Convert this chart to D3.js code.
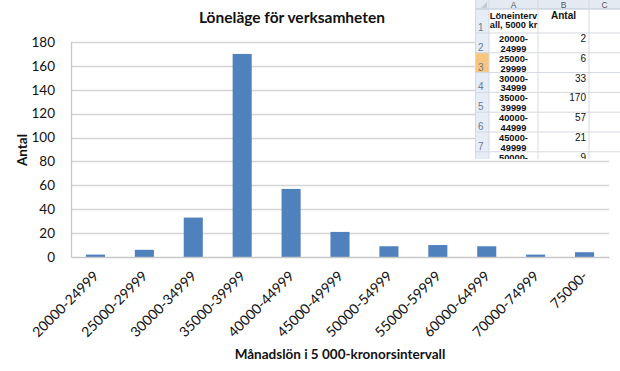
<!DOCTYPE html>
<html>
<head>
<meta charset="utf-8">
<script src="https://cdn.jsdelivr.net/npm/d3@7"></script>
<style>
  body { margin: 0; background: #fff; }
  svg { display: block; }
</style>
</head>
<body>
<div id="chart"></div>
<script>
// data
const categories = ["20000-24999", "25000-29999", "30000-34999", "35000-39999", "40000-44999",
  "45000-49999", "50000-54999", "55000-59999", "60000-64999", "70000-74999", "75000-"];
const counts = [2, 6, 33, 170, 57, 21, 9, 10, 9, 2, 4];
const yTicks = [0, 20, 40, 60, 80, 100, 120, 140, 160, 180];
const sheetColumns = ["A", "B", "C"];
const sheetHeaderA = ["Löneinterv", "all, 5000 kr"];
const sheetHeaderB = "Antal";

const width = 620, height = 371;
const font = "Lato, 'Open Sans', sans-serif";

const svg = d3.select("#chart").append("svg")
  .attr("width", width)
  .attr("height", height);

const plot = { left: 71, right: 609, top: 42, bottom: 257 };

const x = d3.scaleBand()
  .domain(categories)
  .range([plot.left, plot.right])
  .paddingInner(0.61)
  .paddingOuter(0.305);

const y = d3.scaleLinear()
  .domain([0, 180])
  .range([plot.bottom, plot.top]);

// gridlines
svg.append("g")
  .selectAll("line")
  .data(yTicks.filter(d => d > 0))
  .join("line")
  .attr("x1", plot.left)
  .attr("x2", plot.right)
  .attr("y1", d => Math.round(y(d)) + 0.5)
  .attr("y2", d => Math.round(y(d)) + 0.5)
  .attr("stroke", "#d4d4d4")
  .attr("stroke-width", 1.3);

// bars
svg.append("g")
  .selectAll("rect")
  .data(counts)
  .join("rect")
  .attr("x", (d, i) => x(categories[i]))
  .attr("y", d => y(d))
  .attr("width", x.bandwidth())
  .attr("height", d => plot.bottom - y(d))
  .attr("fill", "#4f81bd");

// axes
const yAxis = svg.append("g")
  .attr("transform", `translate(${plot.left},0)`)
  .call(d3.axisLeft(y).tickValues(yTicks).tickSize(0).tickPadding(16));
yAxis.select(".domain").attr("stroke", "#c8c8c8").attr("stroke-width", 1.3);
yAxis.selectAll("text")
  .attr("font-family", font)
  .attr("font-size", 13.5)
  .attr("fill", "#111");

const xAxis = svg.append("g")
  .attr("transform", `translate(0,${plot.bottom})`)
  .call(d3.axisBottom(x).tickSize(0).tickPadding(0));
xAxis.select(".domain").attr("stroke", "#c8c8c8").attr("stroke-width", 1.3);
xAxis.selectAll("text")
  .attr("font-family", font)
  .attr("font-size", 14)
  .attr("fill", "#111")
  .attr("text-anchor", "end")
  .attr("dy", "0")
  .attr("transform", "translate(4,20) rotate(-45)");

// titles
svg.append("text")
  .attr("x", 292)
  .attr("y", 23)
  .attr("text-anchor", "middle")
  .attr("font-family", font)
  .attr("font-weight", "bold")
  .attr("font-size", 15.5)
  .attr("fill", "#111")
  .text("Löneläge för verksamheten");

svg.append("text")
  .attr("transform", "translate(27,150) rotate(-90)")
  .attr("text-anchor", "middle")
  .attr("font-family", font)
  .attr("font-weight", "bold")
  .attr("font-size", 13.5)
  .attr("fill", "#111")
  .text("Antal");

svg.append("text")
  .attr("x", 340)
  .attr("y", 359)
  .attr("text-anchor", "middle")
  .attr("font-family", font)
  .attr("font-weight", "bold")
  .attr("font-size", 13.5)
  .attr("fill", "#111")
  .text("Månadslön i 5 000-kronorsintervall");

// pasted spreadsheet snippet in the top right corner
const sheet = svg.append("g");
const sheetFont = "'Liberation Sans', Arial, sans-serif";
const colEdges = { rh: [475, 489], A: [489, 538], B: [538, 589], C: [589, 620] };
const sheetBottom = 159;
const headH = 9;

sheet.append("clipPath").attr("id", "sheet-clip")
  .append("rect").attr("x", 475).attr("y", 0).attr("width", 145).attr("height", sheetBottom);

const sg = sheet.append("g").attr("clip-path", "url(#sheet-clip)");

// sheet rows: row 1 is the header, rows 2.. come from the data
const sheetRows = [{ n: 1, a: sheetHeaderA, b: sheetHeaderB, head: true }]
  .concat(categories.slice(0, 7).map((c, i) => {
    const parts = c.split("-");
    return { n: i + 2, a: [parts[0] + "-", parts[1]], b: String(counts[i]), head: false };
  }));

const rowScale = d3.scaleLinear().domain([2, 3]).range([33, 52.8]);
const rowTopOf = n => n === 1 ? headH : rowScale(n);
const rowBottomOf = n => n === 1 ? 33 : rowScale(n + 1);
const textY = d => rowTopOf(d.n) + (d.head ? 9.5 : 9);

sg.append("rect").attr("x", 475).attr("y", 0).attr("width", 145).attr("height", sheetBottom).attr("fill", "#fff");

// column header band
sg.append("rect").attr("x", 475).attr("y", 0).attr("width", 145).attr("height", headH).attr("fill", "#e4eaf2");
// row header band
sg.append("rect").attr("x", colEdges.rh[0]).attr("y", headH).attr("width", colEdges.rh[1] - colEdges.rh[0]).attr("height", sheetBottom).attr("fill", "#e6edf7");
// selected row 3
sg.append("rect").attr("x", colEdges.rh[0]).attr("y", rowTopOf(3)).attr("width", colEdges.rh[1] - colEdges.rh[0]).attr("height", rowBottomOf(3) - rowTopOf(3)).attr("fill", "#f8c77d");

// grid lines
sg.selectAll("line.h")
  .data(sheetRows)
  .join("line")
  .attr("class", "h")
  .attr("x1", 475).attr("x2", 620)
  .attr("y1", d => rowBottomOf(d.n)).attr("y2", d => rowBottomOf(d.n))
  .attr("stroke", "#d5d9df");
sg.append("line").attr("x1", 475).attr("x2", 620).attr("y1", headH).attr("y2", headH).attr("stroke", "#b8c4d4");
sg.selectAll("line.v")
  .data([colEdges.rh[1], colEdges.A[1], colEdges.B[1]])
  .join("line")
  .attr("class", "v")
  .attr("x1", d => d).attr("x2", d => d)
  .attr("y1", 0).attr("y2", sheetBottom)
  .attr("stroke", "#d5d9df");
sg.append("line").attr("x1", colEdges.rh[0] + 0.5).attr("x2", colEdges.rh[0] + 0.5).attr("y1", 0).attr("y2", sheetBottom).attr("stroke", "#d5d9df");

// corner triangle
sg.append("path")
  .attr("d", `M${colEdges.rh[1] - 2},2 L${colEdges.rh[1] - 2},8 L${colEdges.rh[1] - 8},8 Z`)
  .attr("fill", "#c3cbd6");

// column letters
sg.selectAll("text.col")
  .data(sheetColumns)
  .join("text")
  .attr("class", "col")
  .attr("x", d => (colEdges[d][0] + colEdges[d][1]) / 2)
  .attr("y", 8.3)
  .attr("text-anchor", "middle")
  .attr("font-family", sheetFont)
  .attr("font-size", 8.5)
  .attr("fill", "#555")
  .text(d => d);

// row numbers
sg.selectAll("text.rn")
  .data(sheetRows)
  .join("text")
  .attr("class", "rn")
  .attr("x", colEdges.rh[0] + 3)
  .attr("y", d => rowBottomOf(d.n) - 2)
  .attr("font-family", sheetFont)
  .attr("font-size", 10)
  .attr("fill", "#6b7a8f")
  .text(d => d.n);

// column A text
sg.selectAll("text.a")
  .data(sheetRows)
  .join("text")
  .attr("class", "a")
  .attr("x", (colEdges.A[0] + colEdges.A[1]) / 2)
  .attr("y", textY)
  .attr("text-anchor", "middle")
  .attr("font-family", sheetFont)
  .attr("font-weight", "bold")
  .attr("font-size", 9.3)
  .attr("fill", "#111")
  .selectAll("tspan")
  .data(d => d.a)
  .join("tspan")
  .attr("x", (colEdges.A[0] + colEdges.A[1]) / 2)
  .attr("dy", (d, i) => i === 0 ? 0 : 9.8)
  .text(d => d);

// column B values
sg.selectAll("text.b")
  .data(sheetRows)
  .join("text")
  .attr("class", "b")
  .attr("x", d => d.head ? (colEdges.B[0] + colEdges.B[1]) / 2 : colEdges.B[1] - 3)
  .attr("y", textY)
  .attr("text-anchor", d => d.head ? "middle" : "end")
  .attr("font-family", sheetFont)
  .attr("font-weight", d => d.head ? "bold" : "normal")
  .attr("font-size", 10)
  .attr("fill", "#111")
  .text(d => d.b);
</script>
</body>
</html>
